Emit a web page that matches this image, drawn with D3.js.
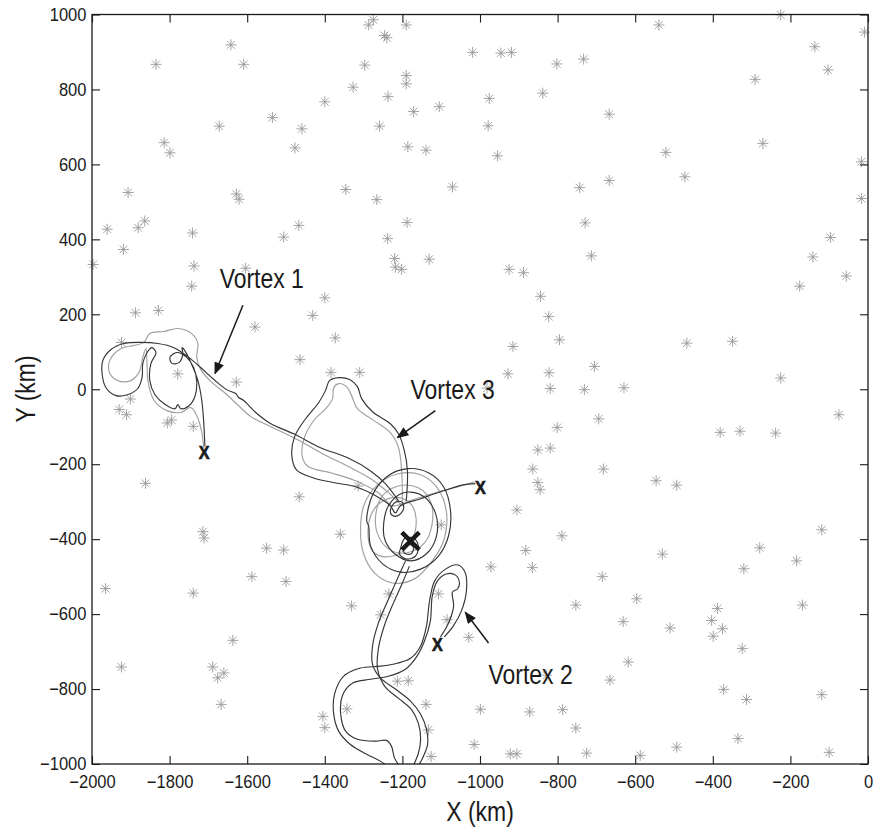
<!DOCTYPE html>
<html>
<head>
<meta charset="utf-8">
<script src="https://cdn.jsdelivr.net/npm/d3@7"></script>
<style>
  body { margin: 0; background: #fff; }
  text { font-family: "Liberation Sans", Arial, Helvetica, sans-serif; }
</style>
</head>
<body>
<svg id="chart" width="873" height="829"></svg>
<script>
// ---- axis ticks (km) ----
const xTickValues = [-2000, -1800, -1600, -1400, -1200, -1000, -800, -600, -400, -200, 0];
const yTickValues = [-1000, -800, -600, -400, -200, 0, 200, 400, 600, 800, 1000];

// ---- float positions (km) ----
const starX = [-1642,-1609,-1835,-1327,-1400,-1535,-1672,-1459,-1814,-1799,-1477,-1346,-1907,-1628,-1621,-1961,-1881,-1864,-1741,-1467,
  -1506,-1919,-1997,-1737,-1604,-1743,-1400,-1888,-1829,-1431,-1580,-1373,-1924,-1464,-1779,-1384,-1628,-1310,-1901,-1930,
  -1911,-1806,-1795,-1739,-1862,-1466,-1314,-1714,-1711,-1360,-1550,-1506,-1588,-1500,-1965,-1739,-1331,-1637,-1924,-1689,
  -1660,-1676,-1667,-1343,-1405,-1400,-1235,-1256,-1107,-1085,-972,-1029,-1213,-1185,-1139,-999,-1133,-1015,-1126,-982,
  -819,-731,-694,-801,-851,-819,-864,-682,-851,-845,-905,-789,-882,-865,-685,-1100,-753,-828,-665,-872,
  -787,-753,-922,-905,-725,-1287,-1275,-1190,-1246,-1240,-1019,-946,-919,-802,-733,-1297,-1190,-1190,-1237,-976,
  -838,-1171,-1105,-667,-1259,-979,-1186,-1139,-955,-1071,-743,-667,-1266,-1188,-1238,-729,-713,-1220,-1218,-1202,
  -1131,-925,-888,-844,-823,-795,-915,-705,-928,-822,-539,-225,-9,-137,-103,-291,-271,-521,-472,-17,
  -17,-97,-142,-56,-176,-467,-349,-225,-629,-75,-381,-330,-238,-546,-493,-119,-279,-184,-320,-530,
  -596,-388,-631,-169,-403,-375,-399,-510,-324,-618,-372,-313,-119,-335,-493,-587,-100];
const starY = [919,867,867,806,767,725,702,695,658,631,644,533,525,521,507,427,431,449,417,437,
  406,373,333,329,323,275,244,204,210,197,166,137,125,79,41,45,19,45,-26,-54,
  -68,-90,-82,-99,-251,-287,-258,-380,-397,-387,-424,-429,-500,-513,-532,-544,-578,-670,-741,-741,
  -757,-770,-841,-853,-873,-903,-546,-602,-546,-615,-474,-662,-779,-778,-841,-854,-909,-948,-980,3,
  2,-1,-79,-102,-162,-157,-213,-213,-249,-268,-322,-391,-430,-476,-500,-362,-576,-763,-776,-861,
  -855,-904,-973,-973,-971,972,986,972,944,938,899,897,899,868,881,865,837,815,781,776,
  790,741,754,734,702,703,647,638,623,540,538,557,506,445,402,444,356,349,326,320,
  347,320,311,248,194,132,114,61,41,44,972,999,953,914,852,827,656,632,567,607,
  509,405,353,302,275,123,128,30,4,-68,-115,-112,-117,-244,-256,-375,-423,-458,-479,-440,
  -559,-585,-620,-576,-617,-639,-659,-637,-692,-728,-801,-828,-815,-932,-955,-977,-969];

// ---- vortex tracks (km) ----
const vortex1Dark = [[-1210,-298],[-1244,-252],[-1282,-218],[-1341,-183],[-1411,-156],[-1480,-119],[-1539,-92],[-1578,-62],
  [-1609,-30],[-1622,-22],[-1629,-12],[-1653,-1],[-1686,26],[-1720,58],[-1753,87],[-1789,111],[-1830,122],[-1874,125],
  [-1918,122],[-1951,106],[-1972,77],[-1974,42],[-1964,4],[-1938,-17],[-1907,-14],[-1882,2],[-1871,31],[-1869,69],
  [-1858,98],[-1846,111],[-1835,98],[-1848,69],[-1851,23],[-1838,-14],[-1815,-38],[-1786,-52],[-1779,-41],[-1771,-52],
  [-1750,-44],[-1735,-20],[-1730,20],[-1738,58],[-1756,85],[-1781,98],[-1799,85],[-1794,69],[-1776,71],[-1766,93],
  [-1768,111],[-1761,103],[-1745,71],[-1727,23],[-1717,-30],[-1712,-89],[-1709,-153]];
const vortex1Light = [[-1200,-311],[-1236,-276],[-1277,-242],[-1334,-209],[-1406,-172],[-1475,-132],[-1539,-100],[-1591,-73],
  [-1622,-44],[-1655,-12],[-1694,21],[-1720,53],[-1730,85],[-1727,122],[-1738,144],[-1756,157],[-1781,162],[-1815,154],
  [-1851,149],[-1866,125],[-1892,117],[-1925,109],[-1954,77],[-1954,42],[-1933,23],[-1900,23],[-1879,45],[-1869,85],
  [-1861,109],[-1858,63],[-1856,23],[-1840,-30],[-1807,-57],[-1771,-62],[-1745,-49],[-1727,-78],[-1717,-116],[-1712,-156]];
const vortex3Dark = [[-1190,-298],[-1187,-218],[-1195,-164],[-1210,-119],[-1231,-92],[-1277,-60],[-1305,-25],[-1316,7],
  [-1336,26],[-1364,31],[-1388,23],[-1398,-3],[-1416,-36],[-1449,-78],[-1478,-127],[-1485,-177],[-1473,-215],[-1431,-236],
  [-1372,-250],[-1321,-260],[-1269,-284],[-1231,-311],[-1218,-330],[-1205,-311],[-1153,-292],[-1094,-271],[-1043,-255],[-1012,-252]];
const vortex3Light = [[-1200,-298],[-1202,-218],[-1210,-156],[-1231,-116],[-1277,-81],[-1316,-52],[-1331,-17],[-1344,7],
  [-1364,15],[-1377,4],[-1380,-25],[-1395,-49],[-1429,-84],[-1455,-137],[-1457,-185],[-1442,-207],[-1385,-223],[-1321,-244],
  [-1262,-276],[-1225,-311],[-1183,-298],[-1115,-276],[-1056,-260],[-1014,-247]];
const vortex2StrandA = [[-1192,-458],[-1213,-506],[-1238,-565],[-1262,-624],[-1277,-685],[-1277,-734],[-1256,-771],[-1218,-800],
  [-1179,-832],[-1153,-867],[-1138,-907],[-1135,-947],[-1146,-980],[-1161,-1009]];
const vortex2StrandB = [[-1182,-472],[-1200,-517],[-1223,-570],[-1246,-629],[-1262,-693],[-1264,-747],[-1246,-792],[-1210,-825],
  [-1177,-854],[-1159,-891],[-1153,-934],[-1159,-972],[-1174,-1009]];
const vortex2Outer = [[-1226,-1014],[-1256,-993],[-1292,-974],[-1334,-948],[-1364,-913],[-1377,-867],[-1375,-814],[-1352,-766],
  [-1308,-744],[-1256,-739],[-1213,-731],[-1179,-718],[-1153,-685],[-1138,-632],[-1130,-565],[-1117,-512],[-1089,-480],
  [-1056,-469],[-1038,-490],[-1035,-538],[-1048,-592],[-1069,-632],[-1092,-661]];
const vortex2Inner = [[-1200,-1014],[-1220,-985],[-1228,-953],[-1241,-937],[-1267,-939],[-1316,-934],[-1346,-913],[-1359,-867],
  [-1354,-816],[-1328,-784],[-1282,-774],[-1236,-766],[-1192,-747],[-1164,-715],[-1143,-672],[-1128,-619],[-1123,-552],
  [-1110,-512],[-1087,-493],[-1063,-496],[-1053,-517],[-1058,-533],[-1071,-541],[-1068,-578],[-1081,-624],[-1102,-661]];

// ---- loops around the common centre (km) ----
const loopDarkA = [[-1292,-351],[-1277,-282],[-1241,-234],[-1187,-212],[-1133,-223],[-1094,-260],[-1076,-324],[-1081,-391],
  [-1107,-445],[-1153,-480],[-1205,-488],[-1251,-466],[-1282,-418],[-1287,-365]];
const loopLightA = [[-1308,-378],[-1298,-306],[-1264,-255],[-1213,-226],[-1153,-228],[-1110,-263],[-1087,-324],[-1092,-399],
  [-1123,-458],[-1169,-506],[-1226,-517],[-1272,-490],[-1300,-439]];
const loopLightB = [[-1269,-338],[-1251,-284],[-1210,-258],[-1159,-263],[-1128,-298],[-1123,-357],[-1143,-410],[-1190,-437],
  [-1236,-426],[-1264,-386]];
const loopDarkB = [[-1249,-373],[-1236,-311],[-1197,-276],[-1148,-284],[-1115,-330],[-1112,-391],[-1138,-439],[-1179,-458],
  [-1220,-439],[-1244,-405]];
const loopLightC = [[-1287,-405],[-1282,-338],[-1251,-298],[-1205,-290],[-1172,-316],[-1166,-373],[-1192,-426],[-1236,-447],
  [-1272,-437]];
const loopSmallA = [[-1205,-426],[-1195,-399],[-1172,-397],[-1159,-418],[-1166,-445],[-1190,-453],[-1208,-439]];
const loopSmallB = [[-1197,-431],[-1187,-413],[-1172,-421],[-1177,-439],[-1192,-439]];
const loopSmallC = [[-1231,-324],[-1220,-303],[-1202,-300],[-1197,-319],[-1213,-338],[-1228,-335]];

// ---- markers and annotations (km) ----
const endX = [-1711, -999, -1110];
const endY = [-169, -262, -681];
const startX = -1179, startY = -405;
const labelText = ["Vortex 1", "Vortex 3", "Vortex 2"];
const labelX = [-1671, -1179, -978];
const labelY = [269, -25, -787];
const arrowFromX = [-1611, -1115, -978];
const arrowFromY = [224, -57, -677];
const arrowToX = [-1683, -1213, -1038];
const arrowToY = [42, -129, -595];

// ---- drawing ----
const svg = d3.select("#chart");
const x = d3.scaleLinear().domain([-2000, 0]).range([92, 868]);
const y = d3.scaleLinear().domain([-1000, 1000]).range([764, 14.5]);

const DARK = "#353535", LIGHT = "#a0a0a0", STAR = "#9a9a9a", INK = "#1a1a1a";
const NARROW = 0.82;

const defs = svg.append("defs");
defs.append("clipPath").attr("id", "plotClip")
  .append("rect").attr("x", 92).attr("y", 14.5).attr("width", 776).attr("height", 749.5);
defs.append("marker").attr("id", "head")
  .attr("viewBox", "0 0 12 10").attr("refX", 11).attr("refY", 5)
  .attr("markerWidth", 13).attr("markerHeight", 10).attr("markerUnits", "userSpaceOnUse")
  .attr("orient", "auto")
  .append("path").attr("d", "M0,0L12,5L0,10Z").attr("fill", INK);

// stars (8-armed asterisks)
const asterisk = {
  draw(ctx, size) {
    const r = Math.sqrt(size) / 2, d = r * Math.SQRT1_2;
    ctx.moveTo(0, -r); ctx.lineTo(0, r);
    ctx.moveTo(-r, 0); ctx.lineTo(r, 0);
    ctx.moveTo(-d, -d); ctx.lineTo(d, d);
    ctx.moveTo(-d, d); ctx.lineTo(d, -d);
  }
};
const starPath = d3.symbol(asterisk, 121)();
svg.append("g").selectAll("path").data(d3.range(starX.length)).join("path")
  .attr("transform", i => `translate(${x(starX[i])},${y(starY[i])})`)
  .attr("d", starPath)
  .attr("fill", "none").attr("stroke", STAR).attr("stroke-width", 0.9);

// tracks
const openLine = d3.line().x(d => x(d[0])).y(d => y(d[1])).curve(d3.curveCatmullRom.alpha(0.5));
const closedLine = d3.line().x(d => x(d[0])).y(d => y(d[1])).curve(d3.curveCatmullRomClosed.alpha(0.5));
const tracks = [
  { pts: loopLightA, tone: LIGHT, closed: true },
  { pts: loopLightB, tone: LIGHT, closed: true },
  { pts: loopLightC, tone: LIGHT, closed: true },
  { pts: vortex1Light, tone: LIGHT, closed: false },
  { pts: vortex3Light, tone: LIGHT, closed: false },
  { pts: loopDarkA, tone: DARK, closed: true },
  { pts: loopDarkB, tone: DARK, closed: true },
  { pts: loopSmallA, tone: DARK, closed: true },
  { pts: loopSmallB, tone: DARK, closed: true },
  { pts: loopSmallC, tone: DARK, closed: true },
  { pts: vortex1Dark, tone: DARK, closed: false },
  { pts: vortex3Dark, tone: DARK, closed: false },
  { pts: vortex2StrandA, tone: DARK, closed: false },
  { pts: vortex2StrandB, tone: DARK, closed: false },
  { pts: vortex2Outer, tone: DARK, closed: false },
  { pts: vortex2Inner, tone: DARK, closed: false }
];
svg.append("g").attr("clip-path", "url(#plotClip)")
  .selectAll("path").data(tracks).join("path")
  .attr("d", t => (t.closed ? closedLine : openLine)(t.pts))
  .attr("fill", "none").attr("stroke", t => t.tone).attr("stroke-width", 1.15)
  .attr("stroke-linejoin", "round");

// end positions and common centre
svg.append("g").selectAll("text").data(d3.range(endX.length)).join("text")
  .attr("transform", i => `translate(${x(endX[i])},${y(endY[i])}) scale(0.85,1)`)
  .attr("text-anchor", "middle").attr("dy", "0.36em")
  .attr("font-size", 19).attr("font-weight", "bold").attr("fill", INK)
  .attr("stroke", INK).attr("stroke-width", 0.7)
  .text("X");
svg.append("path")
  .attr("transform", `translate(${x(startX)},${y(startY)})`)
  .attr("d", d3.symbol(d3.symbolX, 200)())
  .attr("fill", "none").attr("stroke", INK).attr("stroke-width", 4.5);

// annotations
const ann = svg.append("g");
ann.selectAll("line").data(d3.range(labelText.length)).join("line")
  .attr("x1", i => x(arrowFromX[i])).attr("y1", i => y(arrowFromY[i]))
  .attr("x2", i => x(arrowToX[i])).attr("y2", i => y(arrowToY[i]))
  .attr("stroke", INK).attr("stroke-width", 1.5).attr("marker-end", "url(#head)");
ann.selectAll("text").data(d3.range(labelText.length)).join("text")
  .attr("transform", i => `translate(${x(labelX[i])},${y(labelY[i])}) scale(${NARROW},1)`)
  .attr("font-size", 28).attr("fill", INK)
  .text(i => labelText[i]);

// axes: box with inward ticks on every side
const tickFmt = d3.format("d");
const axisStyle = g => {
  g.select(".domain").remove();
  g.selectAll(".tick line").attr("stroke", INK).attr("stroke-width", 1.1);
  g.selectAll(".tick text").attr("fill", INK).attr("font-size", 18)
    .attr("font-family", "'Liberation Sans', Arial, sans-serif");
};
svg.append("g").attr("transform", "translate(0,764)")
  .call(d3.axisBottom(x).tickValues(xTickValues).tickFormat(tickFmt).tickSizeInner(-8).tickSizeOuter(0).tickPadding(11))
  .call(axisStyle)
  .call(g => g.selectAll(".tick text").attr("transform", "scale(0.92,1)"));
svg.append("g").attr("transform", "translate(92,0)")
  .call(d3.axisLeft(y).tickValues(yTickValues).tickFormat(tickFmt).tickSizeInner(-8).tickSizeOuter(0).tickPadding(6))
  .call(axisStyle)
  .call(g => g.selectAll(".tick text").attr("transform", "scale(0.92,1)"));
svg.append("g").attr("transform", "translate(0,14.5)")
  .call(d3.axisTop(x).tickValues(xTickValues).tickSizeInner(-8).tickSizeOuter(0).tickFormat(() => ""))
  .call(axisStyle);
svg.append("g").attr("transform", "translate(868,0)")
  .call(d3.axisRight(y).tickValues(yTickValues).tickSizeInner(-8).tickSizeOuter(0).tickFormat(() => ""))
  .call(axisStyle);
svg.append("rect")
  .attr("x", 92).attr("y", 14.5).attr("width", 776).attr("height", 749.5)
  .attr("fill", "none").attr("stroke", INK).attr("stroke-width", 1.3);

// axis titles
svg.append("text")
  .attr("transform", `translate(${(92 + 868) / 2},821) scale(${NARROW},1)`)
  .attr("text-anchor", "middle").attr("font-size", 28).attr("fill", INK)
  .text("X (km)");
svg.append("text")
  .attr("transform", `translate(35,389) rotate(-90) scale(${NARROW},1)`)
  .attr("text-anchor", "middle").attr("font-size", 28).attr("fill", INK)
  .text("Y (km)");
</script>
</body>
</html>
